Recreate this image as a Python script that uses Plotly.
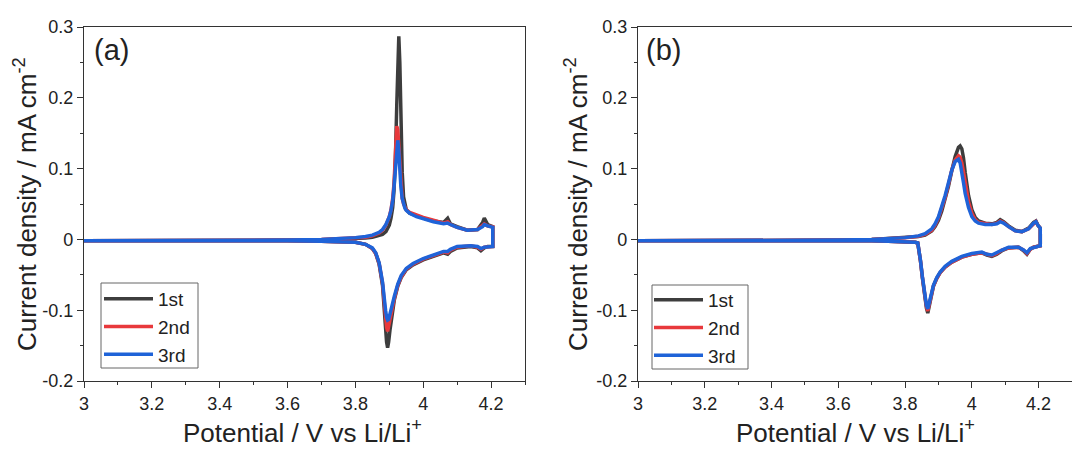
import plotly.graph_objects as go
from plotly.subplots import make_subplots

# ---- panel (a) ----
a_anod_x = [3.00, 3.20, 3.40, 3.60, 3.70, 3.75, 3.80, 3.83, 3.85, 3.87, 3.88, 3.89, 3.90, 3.905,
            3.91, 3.914, 3.918, 3.922, 3.925, 3.928, 3.931, 3.934, 3.938, 3.942, 3.946, 3.95,
            3.96, 3.98, 4.00, 4.03, 4.06, 4.072, 4.08, 4.10, 4.13, 4.16, 4.175, 4.18, 4.19, 4.205]
a_anod_1 = [-0.002, -0.002, -0.0015, -0.001, -0.0005, 0.0, 0.001, 0.002, 0.003, 0.005, 0.007, 0.011,
            0.020, 0.030, 0.045, 0.070, 0.115, 0.190, 0.260, 0.287, 0.250, 0.170, 0.095, 0.060,
            0.048, 0.042, 0.037, 0.033, 0.030, 0.026, 0.024, 0.030, 0.022, 0.018, 0.013, 0.014,
            0.024, 0.030, 0.021, 0.018]
a_anod_2 = [-0.002, -0.002, -0.0015, -0.001, -0.0003, 0.0005, 0.002, 0.003, 0.005, 0.009, 0.013, 0.020,
            0.032, 0.042, 0.058, 0.080, 0.120, 0.160, 0.155, 0.130, 0.100, 0.075, 0.058, 0.050,
            0.045, 0.042, 0.038, 0.034, 0.031, 0.027, 0.023, 0.025, 0.021, 0.017, 0.013, 0.014,
            0.019, 0.022, 0.019, 0.018]
a_anod_3 = [-0.002, -0.002, -0.0015, -0.001, -0.0003, 0.0008, 0.0025, 0.004, 0.006, 0.010, 0.014, 0.021,
            0.032, 0.041, 0.055, 0.075, 0.105, 0.135, 0.140, 0.125, 0.098, 0.075, 0.058, 0.049,
            0.044, 0.041, 0.037, 0.032, 0.029, 0.025, 0.022, 0.023, 0.021, 0.017, 0.013, 0.014,
            0.018, 0.021, 0.019, 0.017]

a_cath_x = [4.205, 4.19, 4.18, 4.17, 4.16, 4.14, 4.10, 4.08, 4.072, 4.06, 4.03, 4.00, 3.97, 3.95,
            3.935, 3.925, 3.915, 3.908, 3.902, 3.898, 3.895, 3.892, 3.889, 3.885, 3.88, 3.87,
            3.86, 3.85, 3.83, 3.80, 3.75, 3.70, 3.60, 3.40, 3.20, 3.00]
a_cath_1 = [-0.010, -0.010, -0.012, -0.016, -0.012, -0.010, -0.012, -0.017, -0.021, -0.019, -0.024,
            -0.029, -0.036, -0.043, -0.054, -0.066, -0.085, -0.105, -0.128, -0.145, -0.153, -0.145,
            -0.125, -0.095, -0.065, -0.035, -0.020, -0.013, -0.007, -0.004, -0.003, -0.0025,
            -0.002, -0.002, -0.002, -0.002]
a_cath_2 = [-0.010, -0.010, -0.011, -0.014, -0.011, -0.009, -0.011, -0.015, -0.019, -0.018, -0.023,
            -0.028, -0.035, -0.042, -0.053, -0.065, -0.083, -0.100, -0.118, -0.127, -0.130, -0.124,
            -0.110, -0.088, -0.062, -0.034, -0.020, -0.013, -0.007, -0.004, -0.003, -0.0025,
            -0.002, -0.002, -0.002, -0.002]
a_cath_3 = [-0.010, -0.010, -0.011, -0.013, -0.010, -0.009, -0.010, -0.014, -0.017, -0.017, -0.022,
            -0.027, -0.034, -0.041, -0.051, -0.063, -0.080, -0.095, -0.108, -0.113, -0.114, -0.110,
            -0.100, -0.082, -0.060, -0.033, -0.019, -0.012, -0.007, -0.004, -0.003, -0.0025,
            -0.002, -0.002, -0.002, -0.002]

# ---- panel (b) ----
b_anod_x = [3.00, 3.20, 3.40, 3.60, 3.70, 3.75, 3.80, 3.84, 3.86, 3.88, 3.89, 3.90, 3.91, 3.92,
            3.93, 3.94, 3.95, 3.96, 3.965, 3.97, 3.975, 3.98, 3.99, 4.00, 4.01, 4.02, 4.04, 4.06,
            4.075, 4.085, 4.095, 4.11, 4.13, 4.15, 4.17, 4.185, 4.192, 4.198, 4.205]
b_anod_1 = [-0.002, -0.002, -0.0015, -0.001, 0.0, 0.001, 0.002, 0.004, 0.006, 0.012, 0.018, 0.027,
            0.040, 0.056, 0.075, 0.097, 0.117, 0.130, 0.132, 0.128, 0.115, 0.095, 0.062, 0.042,
            0.031, 0.026, 0.023, 0.022, 0.024, 0.028, 0.025, 0.019, 0.013, 0.011, 0.016, 0.024,
            0.026, 0.020, 0.016]
b_anod_2 = [-0.002, -0.002, -0.0015, -0.001, 0.0, 0.001, 0.0022, 0.0045, 0.007, 0.013, 0.020, 0.030,
            0.043, 0.059, 0.078, 0.098, 0.112, 0.118, 0.116, 0.108, 0.095, 0.080, 0.053, 0.037,
            0.028, 0.024, 0.022, 0.021, 0.023, 0.026, 0.024, 0.018, 0.012, 0.011, 0.015, 0.023,
            0.025, 0.020, 0.016]
b_anod_3 = [-0.002, -0.002, -0.0015, -0.001, 0.0, 0.001, 0.0025, 0.005, 0.008, 0.015, 0.022, 0.032,
            0.046, 0.062, 0.080, 0.098, 0.110, 0.113, 0.108, 0.096, 0.080, 0.065, 0.045, 0.032,
            0.026, 0.023, 0.021, 0.021, 0.022, 0.025, 0.023, 0.018, 0.012, 0.011, 0.015, 0.023,
            0.025, 0.020, 0.016]

b_cath_x = [4.205, 4.195, 4.185, 4.175, 4.165, 4.155, 4.14, 4.11, 4.09, 4.075, 4.06, 4.045, 4.03,
            4.00, 3.97, 3.94, 3.92, 3.905, 3.895, 3.885, 3.878, 3.872, 3.868, 3.864, 3.858, 3.852,
            3.846, 3.842, 3.838, 3.83, 3.80, 3.75, 3.70, 3.60, 3.40, 3.20, 3.00]
b_cath_1 = [-0.009, -0.010, -0.011, -0.014, -0.021, -0.016, -0.011, -0.012, -0.016, -0.021, -0.024,
            -0.022, -0.019, -0.021, -0.025, -0.032, -0.039, -0.047, -0.055, -0.066, -0.080, -0.096,
            -0.104, -0.097, -0.078, -0.055, -0.030, -0.013, -0.005, -0.004, -0.003, -0.0025,
            -0.002, -0.002, -0.002, -0.002, -0.002]
b_cath_2 = [-0.009, -0.010, -0.011, -0.014, -0.020, -0.015, -0.011, -0.012, -0.015, -0.020, -0.023,
            -0.021, -0.019, -0.021, -0.025, -0.032, -0.039, -0.047, -0.055, -0.066, -0.079, -0.094,
            -0.101, -0.095, -0.077, -0.054, -0.030, -0.013, -0.005, -0.004, -0.003, -0.0025,
            -0.002, -0.002, -0.002, -0.002, -0.002]
b_cath_3 = [-0.009, -0.010, -0.011, -0.013, -0.019, -0.015, -0.011, -0.011, -0.015, -0.019, -0.022,
            -0.021, -0.018, -0.020, -0.024, -0.031, -0.038, -0.046, -0.054, -0.065, -0.078, -0.092,
            -0.098, -0.093, -0.076, -0.053, -0.029, -0.013, -0.005, -0.004, -0.003, -0.0025,
            -0.002, -0.002, -0.002, -0.002, -0.002]

cycles = ["1st", "2nd", "3rd"]
colors = ["#3d3d3d", "#e8393c", "#1f63d8"]

x_tickvals = [3, 3.2, 3.4, 3.6, 3.8, 4.0, 4.2]
x_ticktext = ["3", "3.2", "3.4", "3.6", "3.8", "4", "4.2"]
y_tickvals = [-0.2, -0.1, 0, 0.1, 0.2, 0.3]
y_ticktext = ["-0.2", "-0.1", "0", "0.1", "0.2", "0.3"]

FONT = "Arial, Liberation Sans, sans-serif"
# page body has an 8px margin, so the figure is a bit smaller and shifted
OFF = 8
W, H = 1064, 439


def fx(px):
    return (px - OFF) / W


def fy(py):
    return 1 - (py - OFF) / H


fig = make_subplots(rows=1, cols=2)

panels = [
    (1, "legend", a_anod_x, [a_anod_1, a_anod_2, a_anod_3], a_cath_x, [a_cath_1, a_cath_2, a_cath_3]),
    (2, "legend2", b_anod_x, [b_anod_1, b_anod_2, b_anod_3], b_cath_x, [b_cath_1, b_cath_2, b_cath_3]),
]
for col, leg, ax, ays, cx, cys in panels:
    for name, color, ya, yc in zip(cycles, colors, ays, cys):
        fig.add_trace(go.Scatter(
            x=ax + cx, y=ya + yc, mode="lines", name=name, legend=leg,
            line=dict(color=color, width=3.5),
        ), row=1, col=col)

axis_line = dict(showline=True, linecolor="#333333", linewidth=1.3, mirror=True, automargin=False,
                 showgrid=False, zeroline=False, ticks="outside", ticklen=6, tickwidth=1.3,
                 tickcolor="#333333", tickfont=dict(size=18, color="#222222", family=FONT))

for col, dom in [(1, [fx(84), fx(525)]), (2, [fx(638), 1.0])]:
    fig.update_xaxes(range=[3, 4.3], domain=dom, tickvals=x_tickvals, ticktext=x_ticktext,
                     minor=dict(ticks="outside", ticklen=3, tickwidth=1.3, dtick=0.1, tick0=3,
                                tickcolor="#333333"),
                     **axis_line, row=1, col=col)
    fig.update_yaxes(range=[-0.2, 0.3], domain=[fy(381), fy(27)],
                     tickvals=y_tickvals, ticktext=y_ticktext,
                     minor=dict(ticks="outside", ticklen=3, tickwidth=1.3, dtick=0.05, tick0=0,
                                tickcolor="#333333"),
                     **axis_line, row=1, col=col)

xt = "Potential / V vs Li/Li<sup>+</sup>"
yt = "Current density / mA cm<sup>-2</sup>"
ann = [
    dict(text=xt, x=fx(302), y=fy(431)),
    dict(text=xt, x=fx(855), y=fy(431)),
    dict(text=yt, x=fx(25), y=fy(204), textangle=-90),
    dict(text=yt, x=fx(576), y=fy(204), textangle=-90),
]
annotations = []
for a in ann:
    a.update(xref="paper", yref="paper", showarrow=False, xanchor="center", yanchor="middle",
             font=dict(size=26, color="#222222", family=FONT))
    annotations.append(a)
for lab, px in [("(a)", 111), ("(b)", 663)]:
    annotations.append(dict(text=lab, x=fx(px), y=fy(50), xref="paper", yref="paper",
                            showarrow=False, xanchor="center", yanchor="middle",
                            font=dict(size=29, color="#222222", family=FONT)))

# legend frames drawn as rectangles so they match the reference box size
shapes = []
for x0, x1, y0, y1 in [(101, 198, 283, 368), (652, 748, 285, 369)]:
    shapes.append(dict(type="rect", xref="paper", yref="paper",
                       x0=fx(x0), x1=fx(x1), y0=fy(y1), y1=fy(y0),
                       line=dict(color="#666666", width=1), fillcolor="white", layer="below"))

leg_style = dict(bgcolor="rgba(0,0,0,0)", borderwidth=0,
                 font=dict(size=19, color="#222222", family=FONT),
                 xanchor="left", yanchor="top", tracegroupgap=0, itemwidth=49)
fig.update_layout(
    width=W, height=H,
    margin=dict(l=0, r=0, t=0, b=0),
    paper_bgcolor="white", plot_bgcolor="white",
    annotations=annotations, shapes=shapes,
    legend=dict(x=fx(99), y=fy(280), **leg_style),
    legend2=dict(x=fx(649), y=fy(281), **leg_style),
)

fig.write_html("out.html")
